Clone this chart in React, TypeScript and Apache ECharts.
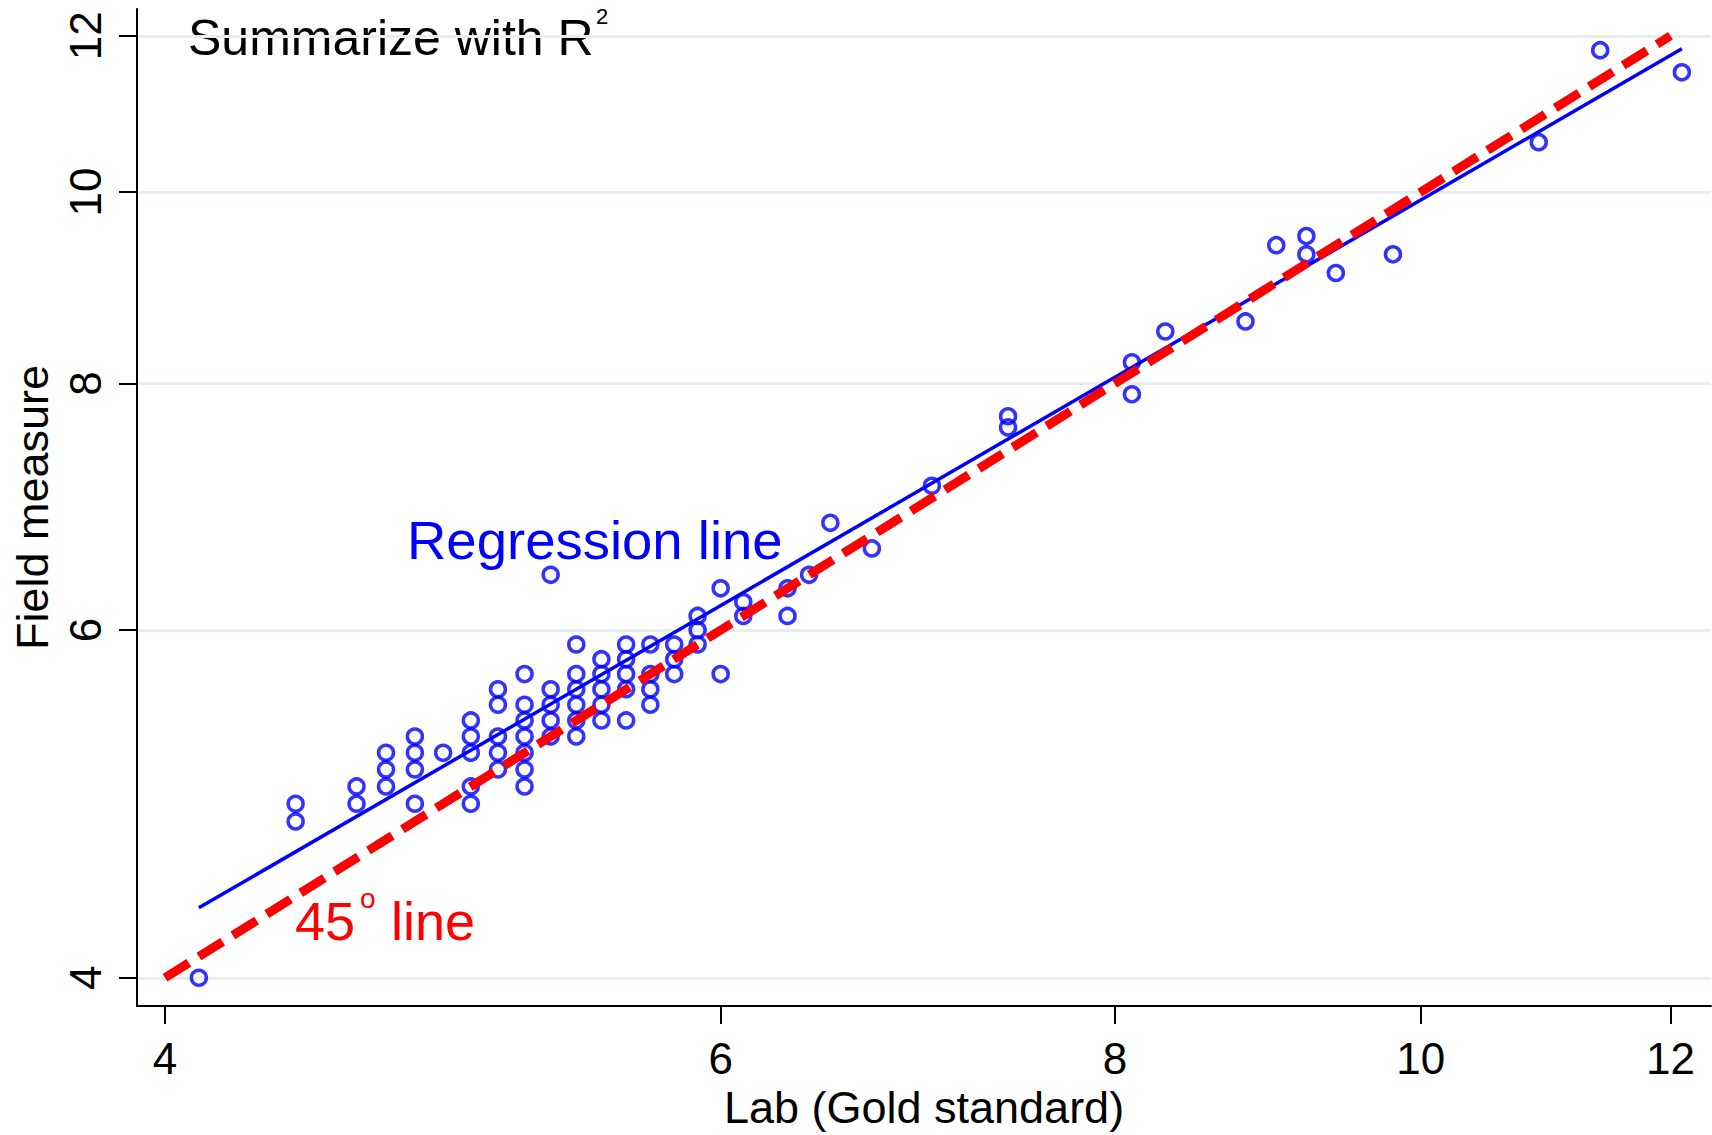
import React, { useEffect, useRef } from "react";
import * as echarts from "echarts";

// Lab (gold standard) values, x axis
const labValues = [
  4.1,
  4.4, 4.4,
  4.6, 4.6,
  4.7, 4.7, 4.7,
  4.8, 4.8, 4.8, 4.8,
  4.9,
  5.0, 5.0, 5.0, 5.0, 5.0,
  5.1, 5.1, 5.1, 5.1, 5.1,
  5.2, 5.2, 5.2, 5.2, 5.2, 5.2, 5.2,
  5.3, 5.3, 5.3, 5.3, 5.3,
  5.4, 5.4, 5.4, 5.4, 5.4, 5.4,
  5.5, 5.5, 5.5, 5.5, 5.5,
  5.6, 5.6, 5.6, 5.6, 5.6,
  5.7, 5.7, 5.7, 5.7,
  5.8, 5.8, 5.8,
  5.9, 5.9, 5.9,
  6.0, 6.0,
  6.1, 6.1,
  6.3, 6.3,
  6.4,
  6.5,
  6.7,
  7.0,
  7.4, 7.4,
  8.1, 8.1,
  8.3,
  8.8,
  9.0,
  9.2, 9.2,
  9.4,
  9.8,
  10.9,
  11.4,
  12.1,
];

// Field measure values, y axis (same order as labValues)
const fieldValues = [
  4.0,
  4.9, 4.8,
  5.0, 4.9,
  5.2, 5.1, 5.0,
  5.3, 5.2, 5.1, 4.9,
  5.2,
  5.4, 5.3, 5.2, 5.0, 4.9,
  5.6, 5.5, 5.3, 5.2, 5.1,
  5.7, 5.5, 5.4, 5.3, 5.2, 5.1, 5.0,
  6.4, 5.6, 5.5, 5.4, 5.3,
  5.9, 5.7, 5.6, 5.5, 5.4, 5.3,
  5.8, 5.7, 5.6, 5.5, 5.4,
  5.9, 5.8, 5.7, 5.6, 5.4,
  5.9, 5.7, 5.6, 5.5,
  5.9, 5.8, 5.7,
  6.1, 6.0, 5.9,
  6.3, 5.7,
  6.2, 6.1,
  6.3, 6.1,
  6.4,
  6.8,
  6.6,
  7.1,
  7.7, 7.6,
  8.2, 7.9,
  8.5,
  8.6,
  9.4,
  9.5, 9.3,
  9.1,
  9.3,
  10.6,
  11.8,
  11.5,
];

// Fitted regression line endpoints (x, y)
const regressionX = [4.1, 12.1];
const regressionY = [4.34, 11.82];

// 45 degree line endpoints
const diagonalX = [4, 12];
const diagonalY = [4, 12];

const xTicks = [4, 6, 8, 10, 12];
const yTicks = [4, 6, 8, 10, 12];

const FONT = "'Liberation Sans', Arial, Helvetica, sans-serif";

export default function App() {
  const ref = useRef<HTMLDivElement>(null);

  useEffect(() => {
    if (!ref.current) return;
    const chart = echarts.init(ref.current, undefined, { renderer: "svg" });

    const scatterData = labValues.map((x, i) => [x, fieldValues[i]]);
    const regData = regressionX.map((x, i) => [x, regressionY[i]]);
    const diagData = diagonalX.map((x, i) => [x, diagonalY[i]]);

    chart.setOption({
      animation: false,
      backgroundColor: "#ffffff",
      textStyle: { fontFamily: FONT },
      grid: { left: 137, right: 1, top: 9, bottom: 124, containLabel: false },
      xAxis: {
        type: "log",
        logBase: 10,
        min: 3.919,
        max: 12.36,
        name: "Lab (Gold standard)",
        nameLocation: "middle",
        nameGap: 74,
        nameTextStyle: { fontSize: 45, color: "#000", fontFamily: FONT },
        axisLine: { show: true, lineStyle: { color: "#000", width: 2 } },
        axisTick: {
          show: true,
          length: 18,
          lineStyle: { color: "#000", width: 2 },
          customValues: xTicks,
        },
        axisLabel: {
          show: true,
          fontSize: 44,
          color: "#000",
          fontFamily: FONT,
          margin: 30,
          customValues: xTicks,
          formatter: (v: number) => String(Math.round(v)),
        },
        splitLine: { show: false },
        minorTick: { show: false },
        minorSplitLine: { show: false },
      },
      yAxis: {
        type: "log",
        logBase: 10,
        min: 3.87,
        max: 12.381,
        name: "Field measure",
        nameLocation: "middle",
        nameGap: 80,
        nameRotate: 90,
        nameTextStyle: { fontSize: 45, color: "#000", fontFamily: FONT },
        axisLine: { show: true, lineStyle: { color: "#000", width: 2 } },
        axisTick: {
          show: true,
          length: 18,
          lineStyle: { color: "#000", width: 2 },
          customValues: yTicks,
        },
        axisLabel: {
          show: true,
          fontSize: 44,
          color: "#000",
          fontFamily: FONT,
          rotate: 90,
          margin: 30,
          customValues: yTicks,
          formatter: (v: number) => String(Math.round(v)),
        },
        splitLine: {
          show: true,
          lineStyle: { color: "#e6eef0", width: 3 },
        },
      },
      series: [
        {
          type: "scatter",
          data: scatterData,
          symbol: "circle",
          symbolSize: 15,
          itemStyle: {
            color: "rgba(0,0,0,0)",
            borderColor: "#0000ff",
            borderWidth: 3.5,
          },
          z: 2,
        },
        {
          type: "line",
          data: regData,
          symbol: "none",
          lineStyle: { color: "#0000ff", width: 3.5 },
          z: 3,
        },
        {
          type: "line",
          data: diagData,
          symbol: "none",
          lineStyle: { color: "#ff0000", width: 9, type: [28, 12], cap: "butt" },
          z: 4,
        },
      ],
      graphic: [
        {
          type: "text",
          x: 188,
          y: 38,
          style: { text: "Summarize with R", fontSize: 50, fontFamily: FONT, fill: "#000", align: "left", verticalAlign: "middle" },
        },
        {
          type: "text",
          x: 596,
          y: 16,
          style: { text: "2", fontSize: 22, fontFamily: FONT, fill: "#000", align: "left", verticalAlign: "middle" },
        },
        {
          type: "text",
          x: 407,
          y: 540,
          style: { text: "Regression line", fontSize: 54.5, fontFamily: FONT, fill: "#0000ff", align: "left", verticalAlign: "middle" },
        },
        {
          type: "text",
          x: 295,
          y: 921,
          style: { text: "45", fontSize: 54, fontFamily: FONT, fill: "#ff0000", align: "left", verticalAlign: "middle" },
        },
        {
          type: "text",
          x: 360,
          y: 898,
          style: { text: "o", fontSize: 28, fontFamily: FONT, fill: "#ff0000", align: "left", verticalAlign: "middle" },
        },
        {
          type: "text",
          x: 391,
          y: 921,
          style: { text: "line", fontSize: 54, fontFamily: FONT, fill: "#ff0000", align: "left", verticalAlign: "middle" },
        },
      ],
    });

    return () => chart.dispose();
  }, []);

  return (
    <div
      ref={ref}
      style={{ position: "absolute", left: 0, top: 0, width: 1712, height: 1135, background: "#fff" }}
    />
  );
}
